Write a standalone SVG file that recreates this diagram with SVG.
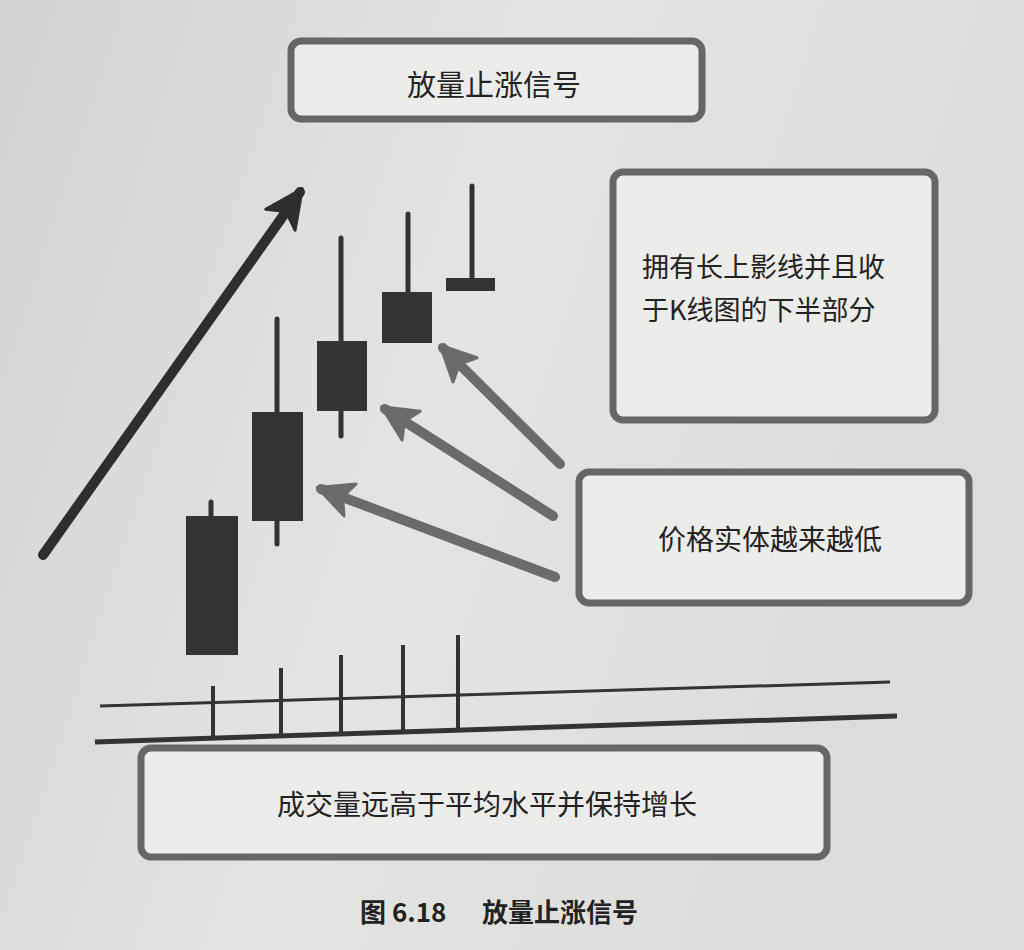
<svg xmlns="http://www.w3.org/2000/svg" width="1024" height="950" viewBox="0 0 1024 950">
<defs>
<linearGradient id="bg" x1="0" y1="0" x2="1" y2="0.3">
<stop offset="0" stop-color="#d2d2d0"/>
<stop offset="0.5" stop-color="#e4e4e2"/>
<stop offset="1" stop-color="#dcdcda"/>
</linearGradient>
<marker id="headDark" markerUnits="userSpaceOnUse" markerWidth="44" markerHeight="44" refX="36" refY="20" orient="auto" viewBox="0 0 44 40">
<path d="M40,20 L2,2 L12,20 L2,38 Z" fill="#2e2e2e" stroke="#2e2e2e" stroke-width="3" stroke-linejoin="round"/>
</marker>
<marker id="headGray" markerUnits="userSpaceOnUse" markerWidth="42" markerHeight="42" refX="33" refY="19" orient="auto" viewBox="0 0 42 38">
<path d="M37,19 L2,2 L10,19 L2,36 Z" fill="#6b6b6b" stroke="#6b6b6b" stroke-width="3" stroke-linejoin="round"/>
</marker>
</defs>
<style>
.box{fill:#ececea;stroke:#666;stroke-width:7}
.lbl{font-family:"Noto Sans CJK SC","Noto Sans",sans-serif;font-size:27px;fill:#222}
.cap{font-family:"Noto Sans CJK SC","Noto Sans",sans-serif;font-size:26px;font-weight:bold;fill:#222}
.candle{fill:#333}
.wick{stroke:#333;stroke-width:5;stroke-linecap:round}
.vol{stroke:#333;stroke-width:4}
.gArrow{stroke:#6b6b6b;stroke-width:10;stroke-linecap:round;fill:none}
</style>
<rect x="0" y="0" width="1024" height="950" fill="url(#bg)"/>

<g id="title-box">
<rect class="box" x="291" y="41" width="411" height="78" rx="10"/>
<text class="lbl" x="494" y="96" text-anchor="middle" style="font-size:29px">放量止涨信号</text>
</g>

<g id="shadow-box">
<rect class="box" x="613" y="172" width="322" height="248" rx="10"/>
<text class="lbl" x="642" y="277">拥有长上影线并且收</text>
<text class="lbl" x="642" y="320">于K线图的下半部分</text>
</g>

<g id="body-box">
<rect class="box" x="579" y="472" width="390" height="131" rx="10"/>
<text class="lbl" x="770" y="550" text-anchor="middle" style="font-size:28px">价格实体越来越低</text>
</g>

<g id="volume-box">
<rect class="box" x="141" y="748" width="686" height="109" rx="10"/>
<text class="lbl" x="487" y="815" text-anchor="middle" style="font-size:28px">成交量远高于平均水平并保持增长</text>
</g>

<g id="candles">
<line class="wick" x1="211" y1="502" x2="211" y2="520"/>
<rect class="candle" x="186" y="516" width="52" height="139"/>
<line class="wick" x1="277" y1="319" x2="277" y2="544"/>
<rect class="candle" x="252" y="412" width="51" height="109"/>
<line class="wick" x1="341" y1="238" x2="341" y2="436"/>
<rect class="candle" x="317" y="341" width="50" height="70"/>
<line class="wick" x1="408" y1="214" x2="408" y2="296"/>
<rect class="candle" x="382" y="292" width="50" height="51"/>
<line class="wick" x1="472" y1="186" x2="472" y2="282"/>
<rect class="candle" x="446" y="278" width="49" height="13"/>
</g>

<g id="volume">
<line x1="100" y1="706" x2="890" y2="682" stroke="#333" stroke-width="3"/>
<line x1="95" y1="742" x2="897" y2="716" stroke="#333" stroke-width="5"/>
<line class="vol" x1="213" y1="686" x2="213" y2="740"/>
<line class="vol" x1="281" y1="668" x2="281" y2="737"/>
<line class="vol" x1="341" y1="655" x2="341" y2="735"/>
<line class="vol" x1="403" y1="645" x2="403" y2="731"/>
<line class="vol" x1="458" y1="635" x2="458" y2="728"/>
</g>

<g id="connectors">
<line x1="43" y1="555" x2="300" y2="192" stroke="#2e2e2e" stroke-width="10" stroke-linecap="round" marker-end="url(#headDark)"/>
<line class="gArrow" x1="560" y1="464" x2="443" y2="348" marker-end="url(#headGray)"/>
<line class="gArrow" x1="553" y1="516" x2="385" y2="409" marker-end="url(#headGray)"/>
<line class="gArrow" x1="555" y1="577" x2="321" y2="489" marker-end="url(#headGray)"/>
</g>

<g id="caption">
<text class="cap" y="922"><tspan x="360">图 6.18</tspan><tspan x="482">放量止涨信号</tspan></text>
</g>
</svg>
